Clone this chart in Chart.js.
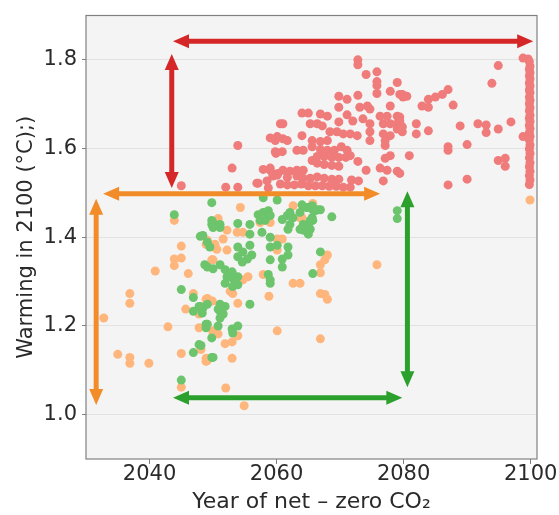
<!DOCTYPE html>
<html>
<head>
<meta charset="utf-8">
<script src="https://cdn.jsdelivr.net/npm/chart.js@4.4.0/dist/chart.umd.min.js"></script>
<style>
  body { margin: 0; background: #ffffff; }
  #wrap { width: 559px; height: 515px; position: relative; }
</style>
</head>
<body>
<div id="wrap"><canvas id="warming_chart"></canvas></div>
<script>
// tick labels
var xTicks = [2040, 2060, 2080, 2100];
var yTicks = [1.0, 1.2, 1.4, 1.6, 1.8];

// [year of net-zero, warming in 2100]
var redPoints = [
    [2053.9,1.607],[2053.0,1.556],[2045.0,1.516],[2052.0,1.513],[2053.9,1.513],[2057.9,1.553],[2059.0,1.551],
    [2057.1,1.522],[2058.7,1.511],[2059.0,1.624],[2059.8,1.618],[2059.9,1.589],[2060.6,1.656],[2056.9,1.522],
    [2058.5,1.527],[2059.4,1.538],[2060.2,1.544],[2060.1,1.627],
    [2072.8,1.800],[2072.8,1.789],[2074.1,1.767],[2075.8,1.773],[2075.8,1.751],[2075.8,1.742],[2079.0,1.749],
    [2075.8,1.724],[2077.9,1.729],[2079.8,1.722],[2079.9,1.716],[2072.8,1.720],[2069.8,1.718],[2071.1,1.711],
    [2069.8,1.693],[2073.1,1.693],[2074.3,1.696],[2074.7,1.689],[2077.9,1.696],[2071.1,1.676],[2064.0,1.680],
    [2065.0,1.680],[2066.9,1.678],[2068.0,1.673],[2061.0,1.656],[2065.3,1.656],[2066.4,1.656],[2067.2,1.651],
    [2069.8,1.660],[2072.0,1.662],[2073.6,1.667],[2074.7,1.656],[2076.3,1.673],[2077.4,1.673],[2079.0,1.673],
    [2076.8,1.656],[2077.9,1.656],[2079.0,1.656],[2079.8,1.649],[2079.0,1.644],[2079.8,1.638],[2076.8,1.633],
    [2077.9,1.629],[2064.0,1.629],[2068.4,1.638],[2069.5,1.638],[2070.5,1.633],[2071.6,1.633],[2072.7,1.629],
    [2061.0,1.622],[2061.7,1.618],[2065.6,1.618],[2066.9,1.616],[2068.0,1.618],[2074.7,1.638],[2074.7,1.618],
    [2077.1,1.618],[2077.1,1.607],[2059.8,1.593],[2060.9,1.593],[2063.2,1.596],[2064.2,1.596],[2065.6,1.604],
    [2066.9,1.598],[2068.0,1.596],[2069.1,1.596],[2070.2,1.604],[2071.1,1.596],[2066.4,1.582],[2067.5,1.582],
    [2068.7,1.580],[2069.8,1.580],[2070.9,1.580],[2071.6,1.584],[2065.6,1.573],[2066.4,1.567],[2067.5,1.564],
    [2068.7,1.562],[2069.8,1.560],[2072.8,1.571],[2077.1,1.578],[2077.9,1.584],[2076.3,1.556],[2077.4,1.551],
    [2079.0,1.549],[2074.1,1.551],[2061.0,1.551],[2062.1,1.549],[2063.2,1.551],[2064.2,1.551],[2059.0,1.556],
    [2060.1,1.540],[2061.7,1.535],[2063.2,1.538],[2064.2,1.533],[2065.3,1.533],[2066.4,1.536],[2067.5,1.533],
    [2068.7,1.531],[2069.8,1.531],[2071.8,1.529],[2072.9,1.527],[2076.8,1.527],[2060.6,1.520],[2061.7,1.518],
    [2062.8,1.518],[2063.9,1.520],[2065.0,1.516],[2066.1,1.516],[2067.2,1.516],[2068.3,1.515],[2069.4,1.515],
    [2070.5,1.513],[2071.6,1.513],
    [2098.8,1.804],[2099.6,1.802],[2094.9,1.787],[2093.9,1.747],[2087.0,1.733],[2086.1,1.722],[2085.0,1.716],
    [2083.9,1.711],[2083.9,1.693],[2082.9,1.696],[2087.8,1.698],[2079.4,1.722],[2080.5,1.718],[2079.4,1.671],
    [2079.4,1.662],[2079.6,1.651],[2082.0,1.656],[2082.0,1.633],[2083.9,1.640],[2088.9,1.651],[2091.7,1.656],
    [2093.0,1.653],[2093.0,1.636],[2094.9,1.644],[2096.9,1.660],[2090.0,1.609],[2087.0,1.604],[2087.0,1.596],
    [2080.9,1.584],[2094.9,1.573],[2096.0,1.578],[2096.0,1.560],[2087.0,1.518],[2090.0,1.531],[2098.8,1.627],
    [2079.4,1.544],
    [2099.8,1.796],[2099.9,1.786],[2099.8,1.779],[2099.9,1.771],[2099.8,1.764],[2099.9,1.757],[2099.8,1.748],
    [2099.9,1.741],[2099.8,1.732],[2099.9,1.726],[2099.8,1.716],[2099.9,1.709],[2099.8,1.701],[2099.9,1.692],
    [2099.8,1.685],[2099.9,1.675],[2099.8,1.668],[2099.9,1.661],[2099.8,1.652],[2099.9,1.645],[2099.8,1.636],
    [2099.9,1.628],[2099.8,1.619],[2099.9,1.608],[2099.8,1.599],[2099.9,1.589],[2099.8,1.579],[2099.9,1.568],
    [2099.8,1.559],[2099.9,1.549],[2099.8,1.539],[2099.9,1.529],[2099.8,1.519]
];

var orangePoints = [
    [2043.9,1.438],[2045.0,1.380],[2048.9,1.384],[2049.7,1.382],[2050.2,1.378],[2043.9,1.351],[2045.0,1.353],
    [2043.9,1.336],[2050.0,1.349],[2040.9,1.324],[2046.1,1.318],[2036.9,1.273],[2036.9,1.251],[2046.9,1.273],
    [2048.9,1.260],[2049.9,1.256],[2045.7,1.238],[2032.8,1.218],[2042.9,1.198],[2035.0,1.136],[2036.9,1.129],
    [2036.9,1.116],[2039.9,1.116],[2045.0,1.138],[2045.0,1.062],[2047.8,1.227],[2047.8,1.196],[2048.1,1.147],
    [2048.9,1.127],[2048.9,1.120],[2050.0,1.189],[2050.0,1.184],[2050.8,1.182],[2053.9,1.178],[2051.9,1.160],
    [2053.0,1.164],[2049.1,1.122],[2053.0,1.127],[2052.0,1.060],[2054.9,1.020],[2060.1,1.189],[2066.9,1.171],
    [2053.9,1.251],[2054.3,1.467],[2050.8,1.442],[2052.2,1.416],[2053.8,1.411],[2057.4,1.433],[2059.0,1.433],
    [2054.7,1.411],[2060.1,1.396],[2060.9,1.396],[2049.1,1.393],[2050.3,1.384],[2051.6,1.396],[2052.2,1.371],
    [2050.6,1.373],[2049.8,1.349],[2055.5,1.311],[2054.7,1.304],[2057.9,1.316],[2060.1,1.371],[2062.6,1.296],
    [2066.9,1.338],[2067.6,1.349],[2066.9,1.273],[2067.6,1.271],[2058.8,1.267],[2052.7,1.278],[2053.1,1.273],
    [2049.1,1.262],[2049.5,1.256],[2065.7,1.476],[2064.0,1.444],[2068.0,1.360],[2066.9,1.320],[2063.7,1.296],
    [2075.8,1.338],[2068.0,1.260],[2062.6,1.471],[2063.7,1.444],[2064.2,1.418],[2099.9,1.484]
];

var greenPoints = [
    [2043.9,1.451],[2049.8,1.478],[2049.8,1.438],[2049.8,1.429],[2048.0,1.402],[2049.1,1.333],[2045.0,1.282],
    [2046.9,1.264],[2047.8,1.244],[2046.9,1.233],[2045.0,1.078],[2048.9,1.204],[2048.9,1.196],[2047.8,1.158],
    [2048.1,1.156],[2046.9,1.140],[2049.8,1.129],[2049.8,1.173],[2048.4,1.240],[2049.1,1.249],[2051.1,1.233],
    [2051.1,1.218],[2051.9,1.244],[2051.6,1.227],[2049.1,1.204],[2050.8,1.200],[2053.0,1.193],[2053.9,1.200],
    [2053.1,1.184],[2050.0,1.129],[2055.8,1.249],[2057.9,1.489],[2060.1,1.484],[2057.1,1.451],[2057.9,1.456],
    [2058.7,1.460],[2059.0,1.449],[2057.4,1.438],[2058.2,1.438],[2060.9,1.440],[2061.7,1.449],[2062.1,1.456],
    [2062.6,1.444],[2062.1,1.429],[2061.8,1.418],[2063.7,1.456],[2064.8,1.467],[2065.7,1.462],[2066.5,1.462],
    [2064.2,1.429],[2065.3,1.418],[2063.7,1.418],[2065.3,1.438],[2050.0,1.433],[2051.1,1.429],[2050.0,1.422],
    [2051.1,1.422],[2053.9,1.431],[2055.8,1.429],[2055.8,1.407],[2057.7,1.411],[2059.0,1.400],[2048.4,1.404],
    [2049.1,1.389],[2049.5,1.378],[2053.9,1.378],[2053.9,1.356],[2054.7,1.367],[2055.8,1.382],[2056.1,1.360],
    [2054.6,1.344],[2055.4,1.351],[2059.0,1.378],[2060.1,1.382],[2061.8,1.378],[2061.8,1.360],[2059.0,1.349],
    [2060.9,1.351],[2060.9,1.333],[2048.7,1.338],[2050.0,1.329],[2051.1,1.338],[2051.9,1.327],[2053.0,1.322],
    [2052.2,1.311],[2053.1,1.307],[2051.9,1.296],[2053.9,1.293],[2053.9,1.311],[2053.1,1.289],[2058.7,1.316],
    [2059.0,1.304],[2059.0,1.296],[2066.9,1.367],[2065.7,1.318],[2051.1,1.249],[2050.8,1.238],[2048.0,1.244],
    [2048.3,1.229],[2064.0,1.473],[2064.8,1.467],[2065.6,1.471],[2066.1,1.460],[2066.9,1.462],[2068.7,1.446],
    [2065.6,1.444],[2065.7,1.438],[2065.0,1.427],[2064.2,1.416],[2065.0,1.407],[2079.0,1.460],[2079.0,1.442]
];

// double-headed arrows: [x1, y1, x2, y2, colour]
var arrows = [
    [2043.7, 1.842, 2100.4, 1.842, '#d62728'],
    [2043.5, 1.813, 2043.5, 1.511, '#d62728'],
    [2032.7, 1.498, 2076.3, 1.498, '#f28c28'],
    [2031.6, 1.487, 2031.6, 1.022, '#f28c28'],
    [2043.7, 1.038, 2079.8, 1.038, '#2ca02c'],
    [2080.6, 1.504, 2080.6, 1.062, '#2ca02c']
];

function toXY(list) {
    return list.map(function(p) { return { x: p[0], y: p[1] }; });
}

function arrowHead(ctx, tx, ty, ang) {
    var len = 16, half = 7;
    ctx.beginPath();
    ctx.moveTo(tx, ty);
    ctx.lineTo(tx - len * Math.cos(ang) + half * Math.sin(ang), ty - len * Math.sin(ang) - half * Math.cos(ang));
    ctx.lineTo(tx - len * Math.cos(ang) - half * Math.sin(ang), ty - len * Math.sin(ang) + half * Math.cos(ang));
    ctx.closePath();
    ctx.fill();
}

var plotFrame = {
    id: 'plotFrame',
    beforeDraw: function(chart) {
        var a = chart.chartArea, ctx = chart.ctx;
        ctx.save();
        ctx.fillStyle = '#f4f4f4';
        ctx.fillRect(a.left, a.top, a.right - a.left, a.bottom - a.top);
        ctx.restore();
    },
    afterDatasetsDraw: function(chart) {
        var ctx = chart.ctx, xs = chart.scales.x, ys = chart.scales.y;
        ctx.save();
        arrows.forEach(function(ar) {
            var x1 = xs.getPixelForValue(ar[0]), y1 = ys.getPixelForValue(ar[1]);
            var x2 = xs.getPixelForValue(ar[2]), y2 = ys.getPixelForValue(ar[3]);
            var ang = Math.atan2(y2 - y1, x2 - x1);
            var c = Math.cos(ang) * 12, s = Math.sin(ang) * 12;
            ctx.strokeStyle = ar[4];
            ctx.fillStyle = ar[4];
            ctx.lineWidth = 5;
            ctx.beginPath();
            ctx.moveTo(x1 + c, y1 + s);
            ctx.lineTo(x2 - c, y2 - s);
            ctx.stroke();
            arrowHead(ctx, x2, y2, ang);
            arrowHead(ctx, x1, y1, ang + Math.PI);
        });
        // frame round the plot area
        var a = chart.chartArea;
        ctx.strokeStyle = '#808080';
        ctx.lineWidth = 1.2;
        ctx.strokeRect(a.left, a.top, a.right - a.left, a.bottom - a.top);
        ctx.restore();
    }
};

var tickFont = { family: 'DejaVu Sans', size: 21, lineHeight: 1 };

var ctx = document.getElementById('warming_chart').getContext('2d');
var myChart = new Chart(ctx, {
    type: 'scatter',
    data: {
        datasets: [{
            data: toXY(redPoints),
            backgroundColor: '#ef7b7b',
            order: 1
        }, {
            data: toXY(greenPoints),
            backgroundColor: '#6cc46c',
            order: 2
        }, {
            data: toXY(orangePoints),
            backgroundColor: '#ffb67d',
            order: 3
        }]
    },
    options: {
        responsive: true,
        maintainAspectRatio: false,
        animation: false,
        layout: { padding: { top: 10, right: 22, left: 0, bottom: 0 } },
        elements: { point: { radius: 4.5, borderWidth: 0, hoverRadius: 4.5 } },
        plugins: { legend: { display: false }, tooltip: { enabled: false } },
        scales: {
            x: {
                type: 'linear',
                min: 2030,
                max: 2101,
                afterBuildTicks: function(s) { s.ticks = xTicks.map(function(v) { return { value: v }; }); },
                afterFit: function(s) { s.height = 56; },
                ticks: { font: tickFont, color: '#2a2a2a', padding: 0, maxRotation: 0,
                         callback: function(v) { return String(v); } },
                grid: { drawOnChartArea: false, tickLength: 5, tickColor: '#808080' },
                border: { display: false },
                title: { display: true, text: 'Year of net – zero CO₂', color: '#2a2a2a',
                         font: { family: 'DejaVu Sans', size: 22, lineHeight: 1.2 }, padding: { top: 0, bottom: 0 } }
            },
            y: {
                min: 0.9,
                max: 1.9,
                afterBuildTicks: function(s) { s.ticks = yTicks.map(function(v) { return { value: v }; }); },
                afterFit: function(s) { s.width = 86; },
                ticks: { font: tickFont, color: '#2a2a2a', padding: 5,
                         callback: function(v) { return v.toFixed(1); } },
                grid: { color: '#e2e2e2', tickLength: 4, tickColor: '#808080' },
                border: { display: false },
                title: { display: true, text: 'Warming in 2100 (°C);)', color: '#2a2a2a',
                         font: { family: 'DejaVu Sans', size: 21, lineHeight: 1.2 }, padding: { top: 14, bottom: 0 } }
            }
        }
    },
    plugins: [plotFrame]
});
</script>
</body>
</html>
